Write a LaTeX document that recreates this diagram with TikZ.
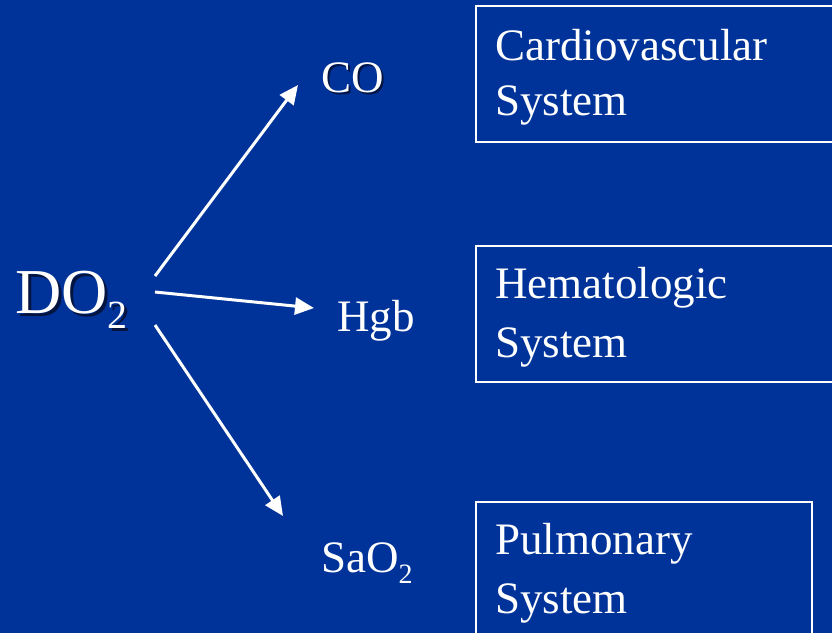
\documentclass[tikz,border=0pt]{standalone}
\usepackage{fontspec}
\setmainfont{Liberation Serif}
\usetikzlibrary{arrows.meta}
\definecolor{slideblue}{RGB}{0,51,153}
\definecolor{shadowblue}{RGB}{5,15,50}
\begin{document}
\begin{tikzpicture}[x=1pt,y=-1pt,
  txt/.style={text=white, inner sep=0pt, anchor=base west, font=\fontsize{45}{45}\selectfont},
  shade/.style={text=shadowblue, opacity=0.85},
  bigtxt/.style={txt, font=\fontsize{64}{64}\selectfont},
  sysbox/.style={draw=white, line width=2pt, inner sep=0pt, anchor=north west},
  flow/.style={draw=white, line width=3pt, -{Triangle[length=19pt 0 0,width=17pt 0 0]}}]
% slide background
\fill[slideblue] (0,0) rectangle (832,633);
\useasboundingbox (0,0) rectangle (832,633);
\clip (0,0) rectangle (832,633);

% system boxes
\node[sysbox, minimum width=380pt, minimum height=136pt] (cardio) at (474.5,5) {};
\node[sysbox, minimum width=380pt, minimum height=136pt] (hema) at (474.5,245) {};
\node[sysbox, minimum width=336pt, minimum height=160pt] (pulm) at (474.5,501) {};

\node[txt] (cardio1) at (495,60) {Cardiovascular};
\node[txt] (cardio2) at (495,115) {System};
\node[txt] (hema1) at (495,298) {Hematologic};
\node[txt] (hema2) at (495,357) {System};
\node[txt] (pulm1) at (495,554) {Pulmonary};
\node[txt] (pulm2) at (495,613) {System};

% DO2 with drop shadow
\node[bigtxt, shade] (do2s) at (18,316) {DO\raisebox{-15pt}{\fontsize{40}{40}\selectfont 2}};
\node[bigtxt] (do2) at (15,313) {DO\raisebox{-15pt}{\fontsize{40}{40}\selectfont 2}};

% determinants
\node[txt, shade] (cos) at (323,94) {CO};
\node[txt] (co) at (321,92) {CO};
\node[txt] (hgb) at (337,331) {Hgb};
\node[txt] (sao2) at (321,572) {SaO\raisebox{-11pt}{\fontsize{28}{28}\selectfont 2}};

% arrow end points
\coordinate (a1) at (155,276);
\coordinate (b1) at (298,85);
\coordinate (a2) at (155,292);
\coordinate (b2) at (314,308);
\coordinate (a3) at (155,325);
\coordinate (b3) at (283,516);

\draw[flow] (a1) -- (b1);
\draw[flow] (a2) -- (b2);
\draw[flow] (a3) -- (b3);
\end{tikzpicture}
\end{document}
